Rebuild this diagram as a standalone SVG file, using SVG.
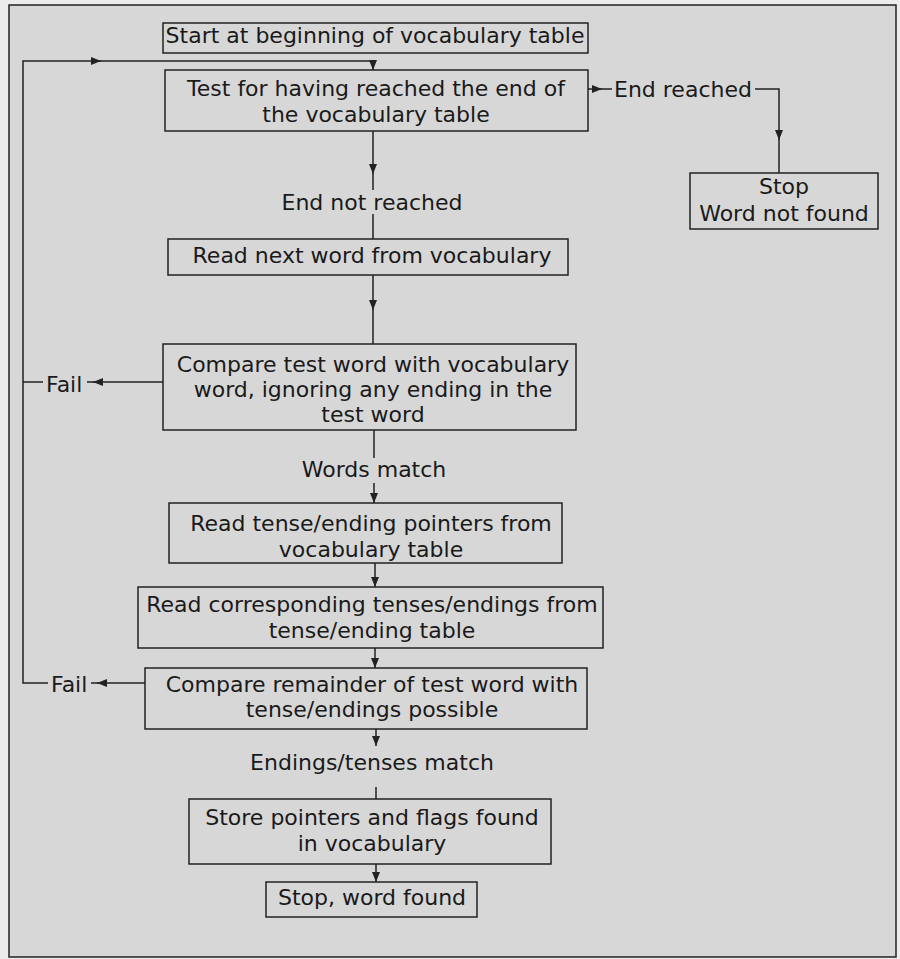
<svg xmlns="http://www.w3.org/2000/svg" width="900" height="959" viewBox="0 0 900 959">
<defs>
<style>
.box{fill:none;stroke:#222;stroke-width:1.5}
.t{font-family:"DejaVu Sans",sans-serif;font-size:22px;fill:#1a1a1a;text-anchor:middle}
.tl{font-family:"DejaVu Sans",sans-serif;font-size:22px;fill:#1a1a1a;text-anchor:start}
.c{fill:none;stroke:#222;stroke-width:1.5}
</style>
<marker id="ah" viewBox="0 0 10 8" refX="10" refY="4" markerWidth="10" markerHeight="8" markerUnits="userSpaceOnUse" orient="auto">
<path d="M0,0 L10,4 L0,8 z" fill="#222"/>
</marker>
</defs>
<rect x="0" y="0" width="900" height="959" fill="#ececec"/>
<rect x="9" y="5" width="887" height="952" fill="#d7d7d7" stroke="#222" stroke-width="1.5"/>

<g id="connectors">
<path class="c" d="M48,683 H23 V61 H101" marker-end="url(#ah)"/>
<path class="c" d="M100,61 H373 V70" marker-end="url(#ah)"/>
<path class="c" d="M588,89 H602" marker-end="url(#ah)"/>
<path class="c" d="M601,89 H612"/>
<path class="c" d="M755,89 H779 V140" marker-end="url(#ah)"/>
<path class="c" d="M779,139 V173"/>
<path class="c" d="M373,131 V174" marker-end="url(#ah)"/>
<path class="c" d="M373,173 V190"/>
<path class="c" d="M373,214 V239"/>
<path class="c" d="M373,275 V310" marker-end="url(#ah)"/>
<path class="c" d="M373,309 V344"/>
<path class="c" d="M163,382 H93" marker-end="url(#ah)"/>
<path class="c" d="M94,382 H87"/>
<path class="c" d="M23,382 H43"/>
<path class="c" d="M374,430 V458"/>
<path class="c" d="M374,483 V503" marker-end="url(#ah)"/>
<path class="c" d="M375,563 V587" marker-end="url(#ah)"/>
<path class="c" d="M375,648 V668" marker-end="url(#ah)"/>
<path class="c" d="M145,683 H97" marker-end="url(#ah)"/>
<path class="c" d="M98,683 H91"/>
<path class="c" d="M376,729 V746" marker-end="url(#ah)"/>
<path class="c" d="M376,787 V799"/>
<path class="c" d="M376,864 V882" marker-end="url(#ah)"/>
</g>

<g id="start">
<rect class="box" x="163" y="23" width="425" height="30"/>
<text class="t" x="375" y="43">Start at beginning of vocabulary table</text>
</g>
<g id="test-end">
<rect class="box" x="165" y="70" width="423" height="61"/>
<text class="t" x="376" y="96">Test for having reached the end of</text>
<text class="t" x="376" y="122">the vocabulary table</text>
</g>
<g id="label-end-reached">
<text class="tl" x="614" y="97">End reached</text>
</g>
<g id="stop-not-found">
<rect class="box" x="690" y="173" width="188" height="56"/>
<text class="t" x="784" y="194">Stop</text>
<text class="t" x="784" y="221">Word not found</text>
</g>
<g id="label-end-not-reached">
<text class="t" x="372" y="210">End not reached</text>
</g>
<g id="read-next">
<rect class="box" x="168" y="239" width="400" height="36"/>
<text class="t" x="372" y="263">Read next word from vocabulary</text>
</g>
<g id="compare-word">
<rect class="box" x="163" y="344" width="413" height="86"/>
<text class="t" x="373" y="372">Compare test word with vocabulary</text>
<text class="t" x="373" y="397">word, ignoring any ending in the</text>
<text class="t" x="373" y="422">test word</text>
</g>
<g id="label-fail-1">
<text class="tl" x="46" y="392">Fail</text>
</g>
<g id="label-words-match">
<text class="t" x="374" y="477">Words match</text>
</g>
<g id="read-pointers">
<rect class="box" x="169" y="503" width="393" height="60"/>
<text class="t" x="371" y="531">Read tense/ending pointers from</text>
<text class="t" x="371" y="557">vocabulary table</text>
</g>
<g id="read-endings">
<rect class="box" x="138" y="587" width="465" height="61"/>
<text class="t" x="372" y="612">Read corresponding tenses/endings from</text>
<text class="t" x="372" y="638">tense/ending table</text>
</g>
<g id="compare-remainder">
<rect class="box" x="145" y="668" width="442" height="61"/>
<text class="t" x="372" y="692">Compare remainder of test word with</text>
<text class="t" x="372" y="717">tense/endings possible</text>
</g>
<g id="label-fail-2">
<text class="tl" x="51" y="692">Fail</text>
</g>
<g id="label-endings-match">
<text class="t" x="372" y="770">Endings/tenses match</text>
</g>
<g id="store">
<rect class="box" x="189" y="799" width="362" height="65"/>
<text class="t" x="372" y="825">Store pointers and flags found</text>
<text class="t" x="372" y="851">in vocabulary</text>
</g>
<g id="stop-found">
<rect class="box" x="266" y="882" width="211" height="35"/>
<text class="t" x="372" y="905">Stop, word found</text>
</g>
</svg>
